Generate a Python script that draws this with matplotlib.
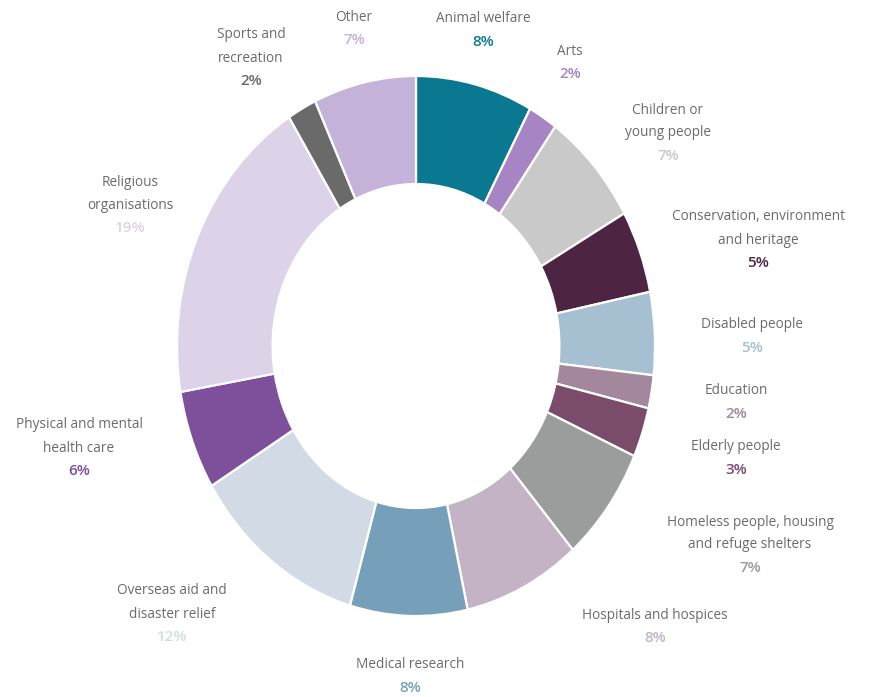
import matplotlib
matplotlib.use("Agg")
import matplotlib.pyplot as plt

# ── Data ──────────────────────────────────────────────────────────────────────
causes = [
    "Animal welfare", "Arts", "Children or\nyoung people",
    "Conservation, environment\nand heritage", "Disabled people", "Education",
    "Elderly people", "Homeless people, housing\nand refuge shelters",
    "Hospitals and hospices", "Medical research",
    "Overseas aid and\ndisaster relief", "Physical and mental\nhealth care",
    "Religious\norganisations", "Sports and\nrecreation", "Other",
]
shares = [8, 2, 7, 5, 5, 2, 3, 7, 8, 8, 12, 6, 19, 2, 7]

colors = [
    "#0b7892", "#a784c3", "#c9c9c9", "#4d2442", "#a6c0d2", "#a3879c",
    "#7a4c6a", "#9b9d9c", "#c4b3c5", "#76a0b9", "#d2dbe5", "#7e4f9b",
    "#ddd3e9", "#6a6a6a", "#c5b2d9",
]

# label anchor (pixel centre of the text block) -- layout only
label_pos = [
    (483, 30), (570, 63), (668, 133), (758, 240), (752, 336), (736, 402),
    (736, 458), (750, 545), (655, 627), (410, 676), (172, 614), (79, 448),
    (130, 205), (251, 58), (354, 29),
]

W, H = 872, 697
cx, cy = 416, 346          # donut centre in pixels
rx, ry = 239, 270          # outer radii in pixels (image is stretched vertically)

fig = plt.figure(figsize=(W / 100, H / 100), dpi=100)
ax = fig.add_axes([0, 0, 1, 1])

ax.pie(
    shares,
    colors=colors,
    startangle=90,
    counterclock=False,
    radius=1.0,
    wedgeprops=dict(width=0.40, edgecolor="white", linewidth=1.6),
)
ax.set_aspect("auto")
ax.set_xlim(-cx / rx, (W - cx) / rx)
ax.set_ylim(-(H - cy) / ry, cy / ry)
ax.axis("off")

name_color = "#6b6b6b"
font = "Open Sans"
line_px = 23

for name, val, col, (px, py) in zip(causes, shares, colors, label_pos):
    lines = name.split("\n") + [f"{val}%"]
    n = len(lines)
    for i, txt in enumerate(lines):
        y = py + (i - (n - 1) / 2) * line_px
        is_pct = i == n - 1
        fig.text(
            px / W, 1 - y / H, txt,
            ha="center", va="center",
            fontsize=11 if is_pct else 9.8, family=font,
            color=col if is_pct else name_color,
            fontweight="semibold" if is_pct else "normal",
        )

fig.savefig("out.png", dpi=100)
